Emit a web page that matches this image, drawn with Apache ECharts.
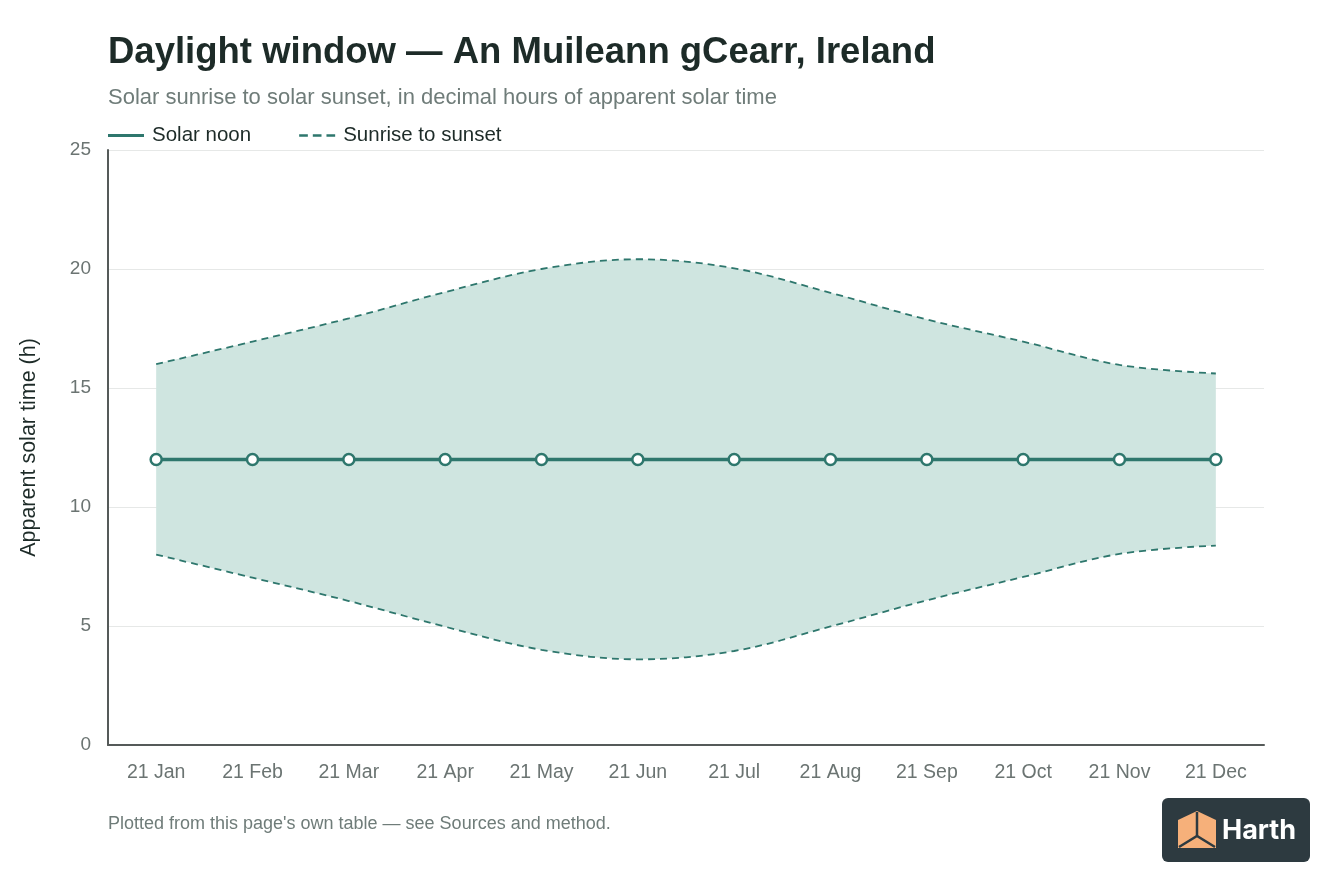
<!DOCTYPE html>
<html>
<head>
<meta charset="utf-8">
<title>Daylight window</title>
<script src="https://cdn.jsdelivr.net/npm/echarts@6/dist/echarts.min.js"></script>
<style>
    html, body { margin: 0; padding: 0; background: #fff; }
    #main { width: 1344px; height: 896px; }
</style>
</head>
<body>
<div id="main"></div>
<script>
var categories = ['21 Jan', '21 Feb', '21 Mar', '21 Apr', '21 May', '21 Jun',
                  '21 Jul', '21 Aug', '21 Sep', '21 Oct', '21 Nov', '21 Dec'];
var sunrise = [8.0, 7.03, 6.05, 4.97, 4.0, 3.6, 3.95, 4.98, 6.08, 7.06, 8.03, 8.38];
var sunset = [16.0, 16.95, 17.93, 19.03, 20.0, 20.41, 20.03, 19.0, 17.88, 16.95, 15.97, 15.61];
var solarNoon = [12, 12, 12, 12, 12, 12, 12, 12, 12, 12, 12, 12];
var yTicks = [0, 5, 10, 15, 20, 25];

(function () {
    var FONT = "'Liberation Sans', Arial, Helvetica, sans-serif";
    var TEAL = '#2e776d';
    var FILL = '#cfe5e0';

    // band height for the stacked area (sunset minus sunrise)
    var bandWidth = sunset.map(function (v, i) { return +(v - sunrise[i]).toFixed(2); });

    var myChart = echarts.init(document.getElementById('main'));

    var option = {
        backgroundColor: '#ffffff',
        animation: false,
        textStyle: { fontFamily: FONT },
        title: [
            {
                text: 'Daylight window \u2014 An Muileann gCearr, Ireland',
                left: 103, top: 29,
                textStyle: { fontSize: 36.5, fontWeight: 'bold', color: '#1d2b28', fontFamily: FONT }
            },
            {
                text: 'Solar sunrise to solar sunset, in decimal hours of apparent solar time',
                left: 103, top: 82,
                textStyle: { fontSize: 22, fontWeight: 'normal', color: '#6f7c79', fontFamily: FONT }
            },
            {
                text: 'Plotted from this page\'s own table \u2014 see Sources and method.',
                left: 103, top: 810,
                textStyle: { fontSize: 18, fontWeight: 'normal', color: '#6f7c79', fontFamily: FONT }
            }
        ],
        legend: {
            left: 103, top: 120,
            itemWidth: 36, itemHeight: 3,
            itemGap: 48,
            textStyle: { fontSize: 20.5, color: '#1d2b28', fontFamily: FONT, padding: [0, 0, 0, 3] },
            data: [
                {
                    name: 'Solar noon',
                    icon: 'path://M0,0H36V3H0Z',
                    itemStyle: { color: TEAL, borderWidth: 0 }
                },
                {
                    name: 'Sunrise to sunset',
                    icon: 'path://M0,0H7V2H0Z M11,0H18V2H11Z M22,0H29V2H22Z',
                    itemStyle: { color: TEAL, borderWidth: 0 }
                }
            ]
        },
        grid: { left: 108, right: 80, top: 150, bottom: 151, containLabel: false },
        xAxis: {
            type: 'category',
            data: categories,
            boundaryGap: true,
            axisLine: { lineStyle: { color: '#555a59', width: 2 } },
            axisTick: { show: false },
            axisLabel: { fontSize: 19.5, color: '#6b7472', margin: 18, fontFamily: FONT }
        },
        yAxis: {
            type: 'value',
            min: yTicks[0], max: yTicks[yTicks.length - 1], interval: 5,
            name: 'Apparent solar time (h)',
            nameLocation: 'middle',
            nameGap: 68,
            nameTextStyle: { fontSize: 21.5, color: '#1d2b28', fontFamily: FONT },
            axisLine: { show: true, lineStyle: { color: '#555a59', width: 2 } },
            axisTick: { show: false },
            axisLabel: { fontSize: 19, color: '#6b7472', margin: 17, fontFamily: FONT },
            splitLine: { lineStyle: { color: '#e6e8e7', width: 1 } }
        },
        series: [
            {
                name: 'Sunrise to sunset',
                type: 'line',
                stack: 'day',
                data: sunrise,
                smooth: 0.35,
                symbol: 'none',
                color: TEAL,
                lineStyle: { color: TEAL, width: 1.8, type: [7, 5] },
                z: 3
            },
            {
                name: 'Sunrise to sunset',
                type: 'line',
                stack: 'day',
                data: bandWidth,
                smooth: 0.35,
                symbol: 'none',
                color: TEAL,
                lineStyle: { color: TEAL, width: 1.8, type: [7, 5] },
                areaStyle: { color: FILL, opacity: 1 },
                z: 2
            },
            {
                name: 'Solar noon',
                type: 'line',
                data: solarNoon,
                color: TEAL,
                symbol: 'circle',
                symbolSize: 11,
                itemStyle: { color: '#ffffff', borderColor: TEAL, borderWidth: 2.5 },
                lineStyle: { color: TEAL, width: 3.5 },
                z: 5
            }
        ],
        graphic: [
            {
                type: 'group',
                left: 1162, top: 798,
                children: [
                    {
                        type: 'rect',
                        shape: { x: 0, y: 0, width: 148, height: 64, r: 6 },
                        style: { fill: '#2d3a40' }
                    },
                    {
                        type: 'polygon',
                        shape: { points: [[35, 13], [54, 22], [54, 50], [16, 50], [16, 22]] },
                        style: { fill: '#f6b07a' }
                    },
                    {
                        type: 'polyline',
                        shape: { points: [[35, 14], [35, 38]] },
                        style: { stroke: '#2d3a40', lineWidth: 2.5, fill: null }
                    },
                    {
                        type: 'polyline',
                        shape: { points: [[17, 49], [35, 38], [53, 49]] },
                        style: { stroke: '#2d3a40', lineWidth: 2.5, fill: null }
                    },
                    {
                        type: 'text',
                        x: 60, y: 33,
                        style: {
                            text: 'Harth',
                            fill: '#ffffff',
                            font: 'bold 27px Inter, Lato, sans-serif',
                            textVerticalAlign: 'middle'
                        }
                    }
                ]
            }
        ]
    };

    myChart.setOption(option);
})(window);
</script>
</body>
</html>
